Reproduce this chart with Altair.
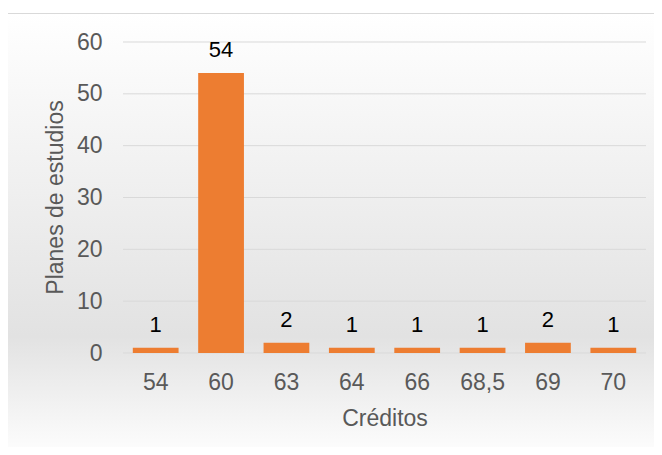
import altair as alt
import pandas as pd

categories = ["54", "60", "63", "64", "66", "68,5", "69", "70"]
values = [1, 54, 2, 1, 1, 1, 2, 1]
y_ticks = [0, 10, 20, 30, 40, 50, 60]

df = pd.DataFrame({"Créditos": categories, "Planes": values})
grid_df = pd.DataFrame({"Planes": y_ticks})
bg_df = pd.DataFrame({"k": [0]})

FONT = "Liberation Sans"
W, H = 523, 311

bg = alt.Chart(bg_df).mark_rect(
    color=alt.Gradient(
        gradient="linear",
        stops=[
            alt.GradientStop(color="#ffffff", offset=0),
            alt.GradientStop(color="#e2e2e2", offset=0.72),
            alt.GradientStop(color="#ffffff", offset=1),
        ],
        x1=0, x2=0, y1=0, y2=1,
    ),
    stroke="#d9d9d9",
    strokeWidth=1,
).encode(
    x=alt.value(-115.5), x2=alt.value(532.5), y=alt.value(-28.5), y2=alt.value(420)
)

grid = alt.Chart(grid_df).mark_rule(color="#d9d9d9", strokeWidth=1).encode(
    y=alt.Y("Planes:Q", scale=alt.Scale(domain=[0, 60])),
    x=alt.value(0),
    x2=alt.value(W),
)

base = alt.Chart(df).encode(
    x=alt.X(
        "Créditos:N",
        sort=categories,
        scale=alt.Scale(paddingInner=0.3, paddingOuter=0.15),
        axis=alt.Axis(
            title="Créditos",
            labelAngle=0,
            labelFontSize=23,
            labelColor="#595959",
            labelFont=FONT,
            labelBaseline="middle",
            labelPadding=29,
            ticks=False,
            domain=False,
            grid=False,
            zindex=1,
            titleFontSize=23,
            titleFont=FONT,
            titleColor="#595959",
            titleFontWeight="normal",
            titleX=W / 2,
            titleY=65,
            titleBaseline="middle",
            titleAlign="center",
        ),
    ),
    y=alt.Y(
        "Planes:Q",
        scale=alt.Scale(domain=[0, 60]),
        axis=alt.Axis(
            title="Planes de estudios",
            values=y_ticks,
            labelFontSize=23,
            labelColor="#595959",
            labelFont=FONT,
            labelPadding=21,
            ticks=False,
            domain=False,
            grid=False,
            zindex=1,
            titleFontSize=23,
            titleFont=FONT,
            titleColor="#595959",
            titleFontWeight="normal",
            titleX=-68,
            titleY=155,
            titleAngle=-90,
            titleAlign="center",
            titleBaseline="middle",
        ),
    ),
)

bars = base.mark_bar(color="#ED7D31")
labels = base.mark_text(
    baseline="middle", dy=-23, fontSize=22, font=FONT, color="#000000"
).encode(text="Planes:Q")

chart = (
    alt.layer(bg, grid, bars, labels)
    .properties(
        width=W,
        height=H,
        autosize=alt.AutoSizeParams(type="none"),
        padding={"left": 115, "top": 34, "right": 8, "bottom": 94},
        background="#ffffff",
    )
    .configure_view(stroke=None)
)

chart.save("out.html", embed_options={"renderer": "svg", "actions": False})
